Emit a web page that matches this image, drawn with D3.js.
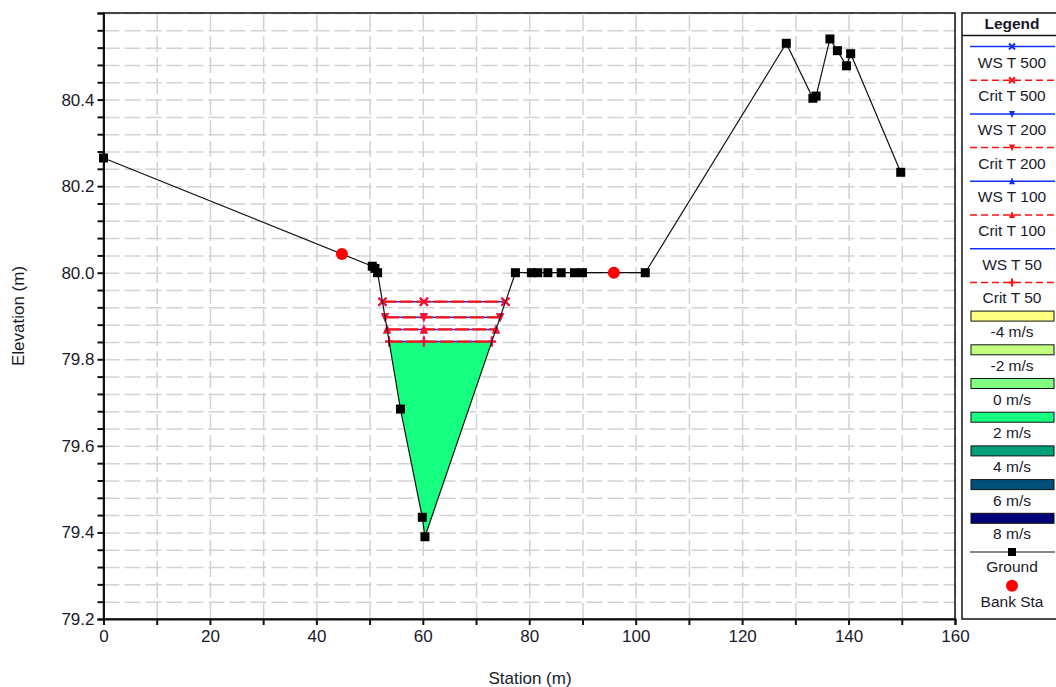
<!DOCTYPE html>
<html>
<head>
<meta charset="utf-8">
<script src="https://cdn.jsdelivr.net/npm/d3@7"></script>
<style>
body { margin: 0; background: #fff; }
text { font-family: "Liberation Sans", Arial, sans-serif; fill: #1a1a2a; }
</style>
</head>
<body>
<script>
var width = 1056;
var height = 687;

// ground profile
var groundSta  = [0, 50.5, 51, 51.5, 55.8, 59.9, 60.4, 77.4, 80.4, 81.6, 83.5, 86, 88.5, 90, 101.8, 128.3, 133.3, 133.9, 136.5, 137.9, 139.6, 140.4, 149.8];
var groundElev = [80.265, 80.015, 80.01, 80.0, 79.685, 79.435, 79.39, 80.0, 80.0, 80.0, 80.0, 80.0, 80.0, 80.0, 80.0, 80.53, 80.403, 80.408, 80.54, 80.513, 80.478, 80.506, 80.232];

// bank stations
var bankSta  = [44.8, 95.9];
var bankElev = [80.043, 80.0];

// water surfaces (WS and Crit coincide)
var profiles = ["T 500", "T 200", "T 100", "T 50"];
var wsElev   = [79.933, 79.897, 79.869, 79.841];
var markSymbols = ["x", "down", "up", "plus"];
var midMarkSta = 60.2;

// velocity legend
var velLabels = ["-4 m/s", "-2 m/s", "0 m/s", "2 m/s", "4 m/s", "6 m/s", "8 m/s"];
var velColors = ["#ffff80", "#c0ff80", "#80ff80", "#16ff80", "#00a07a", "#00507a", "#000078"];

// axis ticks
var xMajor = [0, 20, 40, 60, 80, 100, 120, 140, 160];
var yMajor = [79.2, 79.4, 79.6, 79.8, 80.0, 80.2, 80.4];

var pL = 103.5, pR = 955, pT = 13, pB = 619;

var svg = d3.select("body").append("svg")
  .attr("width", width).attr("height", height);

var x = d3.scaleLinear().domain([0, 160]).range([pL, pR]);
var y = d3.scaleLinear().domain([79.2, 80.6]).range([pB, pT]);

var xMinor = d3.range(0, 17).map(function(i) { return i * 10; });
var yMinor = d3.range(0, 36).map(function(i) { return +(79.2 + i * 0.04).toFixed(2); });

// grid
svg.append("g")
  .attr("transform", "translate(0," + pB + ")")
  .call(d3.axisBottom(x).tickValues(xMinor).tickSize(-(pB - pT)).tickFormat(""))
  .call(function(g) {
    g.select(".domain").remove();
    g.selectAll("line").attr("stroke", "#d2d2d2").attr("stroke-width", 1.5).attr("stroke-dasharray", "16,5");
  });
svg.append("g")
  .attr("transform", "translate(" + pL + ",0)")
  .call(d3.axisLeft(y).tickValues(yMinor).tickSize(-(pR - pL)).tickFormat(""))
  .call(function(g) {
    g.select(".domain").remove();
    g.selectAll("line").attr("stroke", "#d2d2d2").attr("stroke-width", 1.5).attr("stroke-dasharray", "16,5");
  });

// water-edge crossings
function crossing(level) {
  var iMin = d3.minIndex(groundElev);
  var i = iMin, xl, xr;
  while (i > 0 && groundElev[i - 1] < level) i--;
  var t = (level - groundElev[i]) / (groundElev[i - 1] - groundElev[i]);
  xl = groundSta[i] + t * (groundSta[i - 1] - groundSta[i]);
  var j = iMin;
  while (j < groundSta.length - 1 && groundElev[j + 1] < level) j++;
  t = (level - groundElev[j]) / (groundElev[j + 1] - groundElev[j]);
  xr = groundSta[j] + t * (groundSta[j + 1] - groundSta[j]);
  return { xl: xl, xr: xr, i: i, j: j };
}

// velocity fill under the lowest water surface
var low = wsElev[wsElev.length - 1];
var c = crossing(low);
var poly = [[c.xl, low]];
for (var k = c.i; k <= c.j; k++) poly.push([groundSta[k], groundElev[k]]);
poly.push([c.xr, low]);
svg.append("path")
  .attr("d", d3.line().x(function(d) { return x(d[0]); }).y(function(d) { return y(d[1]); })(poly) + "Z")
  .attr("fill", velColors[3]);

// marker drawing
function marker(g, sym, cx, cy, color, s) {
  s = s || 4;
  if (sym === "x") {
    g.append("path").attr("d", "M" + (cx - s) + "," + (cy - s) + "L" + (cx + s) + "," + (cy + s) + "M" + (cx - s) + "," + (cy + s) + "L" + (cx + s) + "," + (cy - s))
      .attr("stroke", color).attr("stroke-width", 2);
  } else if (sym === "plus") {
    g.append("path").attr("d", "M" + (cx - s) + "," + cy + "L" + (cx + s) + "," + cy + "M" + cx + "," + (cy - s - 1) + "L" + cx + "," + (cy + s + 1))
      .attr("stroke", color).attr("stroke-width", 2);
  } else if (sym === "up") {
    g.append("path").attr("d", "M" + cx + "," + (cy - s - 1) + "L" + (cx + s) + "," + (cy + s) + "L" + (cx - s) + "," + (cy + s) + "Z")
      .attr("fill", color);
  } else if (sym === "down") {
    g.append("path").attr("d", "M" + cx + "," + (cy + s + 1) + "L" + (cx + s) + "," + (cy - s) + "L" + (cx - s) + "," + (cy - s) + "Z")
      .attr("fill", color);
  }
}

// water surface lines
var wsG = svg.append("g");
profiles.forEach(function(p, i) {
  var e = wsElev[i];
  var cr = crossing(e);
  var stations = [cr.xl, midMarkSta, cr.xr];
  wsG.append("line").attr("x1", x(cr.xl)).attr("x2", x(cr.xr)).attr("y1", y(e)).attr("y2", y(e))
    .attr("stroke", "#1030ff").attr("stroke-width", 1.5);
  stations.forEach(function(s) { marker(wsG, markSymbols[i], x(s), y(e), "#7030c0", 4); });
  wsG.append("line").attr("x1", x(cr.xl)).attr("x2", x(cr.xr)).attr("y1", y(e)).attr("y2", y(e))
    .attr("stroke", "#ff1010").attr("stroke-width", 2.2).attr("stroke-dasharray", "14,3");
  stations.forEach(function(s) { marker(wsG, markSymbols[i], x(s), y(e), "#ff1030", 4); });
});

// ground
var ground = groundSta.map(function(s, i) { return [s, groundElev[i]]; });
svg.append("path")
  .attr("d", d3.line().x(function(d) { return x(d[0]); }).y(function(d) { return y(d[1]); })(ground))
  .attr("fill", "none").attr("stroke", "#111").attr("stroke-width", 1.2);
svg.selectAll("rect.gp").data(ground).enter().append("rect")
  .attr("class", "gp")
  .attr("x", function(d) { return x(d[0]) - 4.5; })
  .attr("y", function(d) { return y(d[1]) - 4.5; })
  .attr("width", 9).attr("height", 9).attr("fill", "#000");

// bank stations
svg.selectAll("circle.bank").data(bankSta).enter().append("circle")
  .attr("class", "bank")
  .attr("cx", function(d) { return x(d); })
  .attr("cy", function(d, i) { return y(bankElev[i]); })
  .attr("r", 6).attr("fill", "#ff0000");

// frame
svg.append("rect").attr("x", pL).attr("y", pT).attr("width", pR - pL).attr("height", pB - pT)
  .attr("fill", "none").attr("stroke", "#111").attr("stroke-width", 1.5);

// axes
var xAxis = svg.append("g")
  .attr("transform", "translate(0," + pB + ")")
  .call(d3.axisBottom(x).tickValues(xMinor).tickSize(6).tickPadding(5)
    .tickFormat(function(d) { return xMajor.indexOf(d) >= 0 ? d : ""; }));
xAxis.select(".domain").attr("stroke", "#111").attr("stroke-width", 2);
xAxis.selectAll("line").attr("stroke", "#111").attr("stroke-width", 2);
xAxis.selectAll("text").attr("font-size", 17).attr("fill", "#1a1a2a");

var yAxis = svg.append("g")
  .attr("transform", "translate(" + pL + ",0)")
  .call(d3.axisLeft(y).tickValues(yMinor).tickSize(6).tickPadding(3)
    .tickFormat(function(d) {
      return yMajor.some(function(m) { return Math.abs(m - d) < 1e-6; }) ? d.toFixed(1) : "";
    }));
yAxis.select(".domain").attr("stroke", "#111").attr("stroke-width", 2);
yAxis.selectAll("line").attr("stroke", "#111").attr("stroke-width", 2);
yAxis.selectAll("text").attr("font-size", 17).attr("fill", "#1a1a2a");
svg.selectAll(".tick text").style("font-family", "'Liberation Sans', Arial, sans-serif");

svg.append("text").attr("x", 530).attr("y", 684).attr("text-anchor", "middle")
  .attr("font-size", 17).text("Station (m)");
svg.append("text").attr("transform", "translate(24,316) rotate(-90)").attr("text-anchor", "middle")
  .attr("font-size", 17).text("Elevation (m)");

// legend
var lg = svg.append("g");
var lx0 = 962, lx1 = 1062, lcx = 1012;
lg.append("rect").attr("x", lx0).attr("y", pT).attr("width", lx1 - lx0).attr("height", 606)
  .attr("fill", "#fff").attr("stroke", "#111").attr("stroke-width", 1.5);
lg.append("line").attr("x1", lx0).attr("x2", lx1).attr("y1", 35.5).attr("y2", 35.5)
  .attr("stroke", "#111").attr("stroke-width", 1.5);
lg.append("text").attr("x", 1012).attr("y", 29).attr("text-anchor", "middle")
  .attr("font-size", 15.5).attr("font-weight", "bold").text("Legend");

var step = 33.7, y0 = 46.5, row = 0, fs = 15.5;
function rowY() { return y0 + step * row; }
profiles.forEach(function(p, i) {
  // WS
  var ly = rowY();
  lg.append("line").attr("x1", 970).attr("x2", 1055).attr("y1", ly).attr("y2", ly)
    .attr("stroke", "#1030ff").attr("stroke-width", 1.5);
  if (markSymbols[i] !== "plus") marker(lg, markSymbols[i], lcx, ly, "#1030ff", 3);
  lg.append("text").attr("x", lcx).attr("y", ly + 21).attr("text-anchor", "middle").attr("font-size", fs).text("WS " + p);
  row++;
  // Crit
  ly = rowY();
  lg.append("line").attr("x1", 970).attr("x2", 1055).attr("y1", ly).attr("y2", ly)
    .attr("stroke", "#ff1010").attr("stroke-width", 1.5).attr("stroke-dasharray", "7,4");
  marker(lg, markSymbols[i], lcx, ly, "#ff1010", 3);
  lg.append("text").attr("x", lcx).attr("y", ly + 21).attr("text-anchor", "middle").attr("font-size", fs).text("Crit " + p);
  row++;
});
velLabels.forEach(function(l, i) {
  var ly = rowY();
  lg.append("rect").attr("x", 971).attr("y", ly - 5).attr("width", 83).attr("height", 10)
    .attr("fill", velColors[i]).attr("stroke", "#111").attr("stroke-width", 1);
  lg.append("text").attr("x", lcx).attr("y", ly + 21).attr("text-anchor", "middle").attr("font-size", fs).text(l);
  row++;
});
var gy = rowY();
lg.append("line").attr("x1", 970).attr("x2", 1055).attr("y1", gy).attr("y2", gy).attr("stroke", "#111").attr("stroke-width", 1.2);
lg.append("rect").attr("x", lcx - 4).attr("y", gy - 4).attr("width", 8).attr("height", 8).attr("fill", "#000");
lg.append("text").attr("x", lcx).attr("y", gy + 20).attr("text-anchor", "middle").attr("font-size", fs).text("Ground");
row++;
var by = rowY();
lg.append("circle").attr("cx", lcx).attr("cy", by).attr("r", 6).attr("fill", "#ff0000");
lg.append("text").attr("x", lcx).attr("y", by + 21).attr("text-anchor", "middle").attr("font-size", fs).text("Bank Sta");
</script>
</body>
</html>
